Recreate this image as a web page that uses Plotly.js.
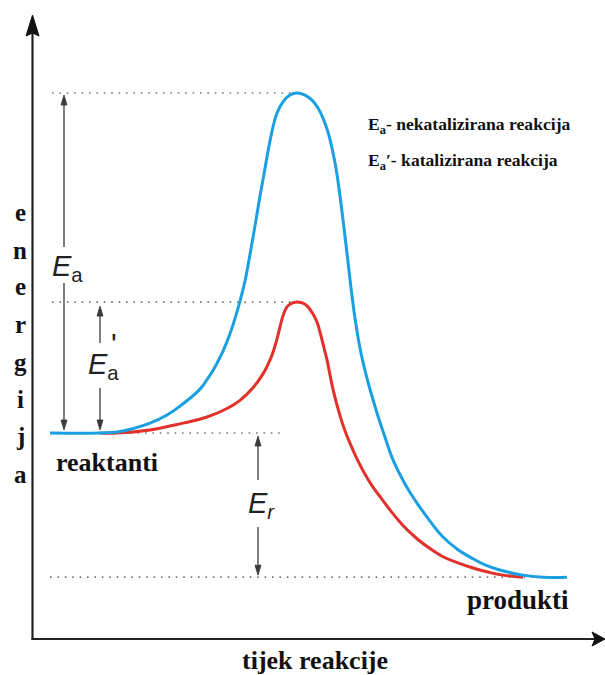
<!DOCTYPE html>
<html>
<head>
<meta charset="utf-8">
<script src="https://cdn.plot.ly/plotly-3.0.1.min.js"></script>
<style>html,body{margin:0;padding:0;background:#fff;}#chart{width:605px;height:675px;}</style>
</head>
<body>
<div id="chart"></div>
<script>
// ---- data (reaction coordinate, energy in arbitrary units; reactants = 0) ----
const blueX = [50,100,117,133,150,167,183,200,207,213,218,223,228,233,240,245,249,253,257,260,264,267,270,273,277,283,290,297,305,312,318,323,328,332,336,340,344,348,352,356,361,368,377,386,393,405,417,430,443,457,470,485,500,523,543,567];
const blueE = [0,0,0.3,1.3,2.9,5.3,8.6,12.9,15.7,18.4,21.1,24.1,27.6,31.8,38.8,44.7,50.9,57.6,64.4,69.7,76.2,81.2,85.9,90.0,94.1,97.4,99.4,100,99.4,97.9,95.6,92.6,88.5,83.8,77.9,69.7,60.3,50.3,40.3,31.8,23.5,15.0,5.9,-2.1,-7.9,-15.0,-20.6,-25.9,-30.6,-34.1,-36.5,-38.8,-40.3,-41.8,-42.4,-42.4];
const redX  = [100,117,150,183,207,227,240,253,263,268,272,275,278,281,284,287,290,294,298,303,308,313,317,320,323,327,330,333,337,342,347,352,357,365,373,381,390,403,417,430,443,458,473,488,503,523];
const redE  = [0,0,0.9,2.9,4.7,7.2,9.6,13.3,17.4,20.2,22.9,25.6,28.8,32.4,35.3,37.1,37.9,38.4,38.5,38.2,37.1,35.0,32.6,29.7,26.2,21.5,17.1,12.9,8.2,3.2,-0.9,-4.4,-7.6,-12.1,-15.9,-19.1,-22.6,-27.2,-31.1,-34.0,-36.4,-38.2,-39.7,-40.9,-41.8,-42.4];
const levelReactants = 0;
const levelProducts = -42.4;
const peakUncat = 100;
const peakCat = 38.5;
const axisLetters = ['e','n','e','r','g','i','j','a'];
const labelReactants = 'reaktanti';
const labelProducts = 'produkti';
const labelXAxis = 'tijek reakcije';
const legendLines = ['E<sub>a</sub>- nekatalizirana reakcija', 'E<sub>a</sub>′- katalizirana reakcija'];

// ---- helpers ----
const W = 605, H = 675;
const px = x => x / W;
const py = y => 1 - y / H;
const SCALE = 3.4, BASE = 433;          // pixels per energy unit, pixel row of reactant level
const yRange = [(BASE - H) / SCALE, BASE / SCALE];
const eOfPx = y => (BASE - y) / SCALE;
const dE = p => p / SCALE;               // pixel length -> energy length

const dotted = {color: '#777', width: 1.6, dash: '1.6px,5.8px'};
const traces = [
  {x: [52, 292], y: [peakUncat, peakUncat], mode: 'lines', line: dotted, hoverinfo: 'skip'},
  {x: [52, 292], y: [peakCat, peakCat], mode: 'lines', line: dotted, hoverinfo: 'skip'},
  {x: [108, 284], y: [levelReactants, levelReactants], mode: 'lines', line: dotted, hoverinfo: 'skip'},
  {x: [50, 556], y: [levelProducts, levelProducts], mode: 'lines', line: dotted, hoverinfo: 'skip'},
  {x: redX, y: redE, mode: 'lines', line: {color: '#e2312b', width: 3, shape: 'spline', smoothing: 1.3, simplify: false}, hoverinfo: 'skip'},
  {x: blueX, y: blueE, mode: 'lines', line: {color: '#1aa0e2', width: 3, shape: 'spline', smoothing: 1.3, simplify: false}, hoverinfo: 'skip'}
];

const serif = 'Liberation Serif, Times New Roman, serif';
const sans = 'Liberation Sans, Arial, sans-serif';
const ann = [];
const shapes = [];

// energy arrows drawn as shapes (two halves each, gap for the label)
const ARROW_C = '#3a3a3a';
function head(x, tipE, dir) { // dir = +1 points up, -1 points down
  const baseE = tipE - dir * dE(10);
  return {type: 'path', xref: 'x', yref: 'y',
    path: `M ${x} ${tipE} L ${x - 3} ${baseE} L ${x + 3} ${baseE} Z`,
    fillcolor: ARROW_C, line: {color: ARROW_C, width: 0.8}};
}
function energyArrow(x, topE, botE, gapTopPx, gapBotPx, topOff, botOff) {
  const tTip = topE - dE(topOff), bTip = botE + dE(botOff);
  shapes.push({type: 'line', xref: 'x', yref: 'y', x0: x, x1: x, y0: tTip - dE(6), y1: eOfPx(gapTopPx), line: {color: ARROW_C, width: 1.3}});
  shapes.push({type: 'line', xref: 'x', yref: 'y', x0: x, x1: x, y0: bTip + dE(6), y1: eOfPx(gapBotPx), line: {color: ARROW_C, width: 1.3}});
  shapes.push(head(x, tTip, 1));
  shapes.push(head(x, bTip, -1));
}
energyArrow(64, peakUncat, levelReactants, 247, 283, 2, 3);
energyArrow(100, peakCat, levelReactants, 343, 388, 4, 3);
energyArrow(258, levelReactants, levelProducts, 480, 527, 3, 2);

// math labels
ann.push({xref: 'paper', yref: 'paper', x: px(67), y: py(268), text: '<i>E</i><sub>a</sub>', showarrow: false,
  font: {family: sans, size: 29, color: '#222'}, xanchor: 'center', yanchor: 'middle'});
ann.push({xref: 'paper', yref: 'paper', x: px(103), y: py(366), text: '<i>E</i><sub>a</sub>', showarrow: false,
  font: {family: sans, size: 29, color: '#222'}, xanchor: 'center', yanchor: 'middle'});
ann.push({xref: 'paper', yref: 'paper', x: px(114), y: py(343), text: "'", showarrow: false,
  font: {family: sans, size: 30, color: '#222'}, xanchor: 'center', yanchor: 'middle'});
ann.push({xref: 'paper', yref: 'paper', x: px(261), y: py(505), text: '<i>E<sub>r</sub></i>', showarrow: false,
  font: {family: sans, size: 29, color: '#222'}, xanchor: 'center', yanchor: 'middle'});

// vertical axis letters
const letterY = [212, 250, 287, 325, 362, 399, 436, 474];
axisLetters.forEach((ch, i) => {
  ann.push({xref: 'paper', yref: 'paper', x: px(20), y: py(letterY[i]), text: '<b>' + ch + '</b>', showarrow: false,
    font: {family: serif, size: 25, color: '#111'}, xanchor: 'center', yanchor: 'middle'});
});

// text labels
ann.push({xref: 'paper', yref: 'paper', x: px(54), y: py(462), text: '<b>' + labelReactants + '</b>', showarrow: false,
  font: {family: serif, size: 26, color: '#111'}, xanchor: 'left', yanchor: 'middle'});
ann.push({xref: 'paper', yref: 'paper', x: px(571), y: py(600), text: '<b>' + labelProducts + '</b>', showarrow: false,
  font: {family: serif, size: 27, color: '#111'}, xanchor: 'right', yanchor: 'middle'});
ann.push({xref: 'paper', yref: 'paper', x: px(315), y: py(660), text: '<b>' + labelXAxis + '</b>', showarrow: false,
  font: {family: serif, size: 26, color: '#111'}, xanchor: 'center', yanchor: 'middle'});
ann.push({xref: 'paper', yref: 'paper', x: px(366), y: py(126), text: '<b>' + legendLines[0] + '</b>', showarrow: false,
  font: {family: serif, size: 17.6, color: '#111'}, xanchor: 'left', yanchor: 'middle'});
ann.push({xref: 'paper', yref: 'paper', x: px(366), y: py(161), text: '<b>' + legendLines[1] + '</b>', showarrow: false,
  font: {family: serif, size: 17.6, color: '#111'}, xanchor: 'left', yanchor: 'middle'});

// axes drawn as arrows
shapes.push(
  {type: 'line', xref: 'paper', yref: 'paper', x0: px(32.5), y0: py(640), x1: px(32.5), y1: py(32), line: {color: '#222', width: 2.2}},
  {type: 'path', xref: 'paper', yref: 'paper',
   path: `M ${px(32.5)} ${py(15)} L ${px(26)} ${py(36)} L ${px(32.5)} ${py(33)} L ${px(39)} ${py(36)} Z`,
   fillcolor: '#111', line: {color: '#111', width: 1}},
  {type: 'line', xref: 'paper', yref: 'paper', x0: px(31.5), y0: py(639), x1: px(596), y1: py(639), line: {color: '#222', width: 2.2}},
  {type: 'path', xref: 'paper', yref: 'paper',
   path: `M ${px(605)} ${py(639)} L ${px(592)} ${py(632)} L ${px(595)} ${py(639)} L ${px(592)} ${py(646)} Z`,
   fillcolor: '#111', line: {color: '#111', width: 1}}
);

const layout = {
  width: W, height: H,
  margin: {l: 0, r: 0, t: 0, b: 0},
  paper_bgcolor: '#fff', plot_bgcolor: '#fff',
  showlegend: false,
  xaxis: {range: [0, W], visible: false, fixedrange: true},
  yaxis: {range: yRange, visible: false, fixedrange: true},
  annotations: ann,
  shapes: shapes
};
Plotly.newPlot('chart', traces, layout, {staticPlot: true, displayModeBar: false});
</script>
</body>
</html>
